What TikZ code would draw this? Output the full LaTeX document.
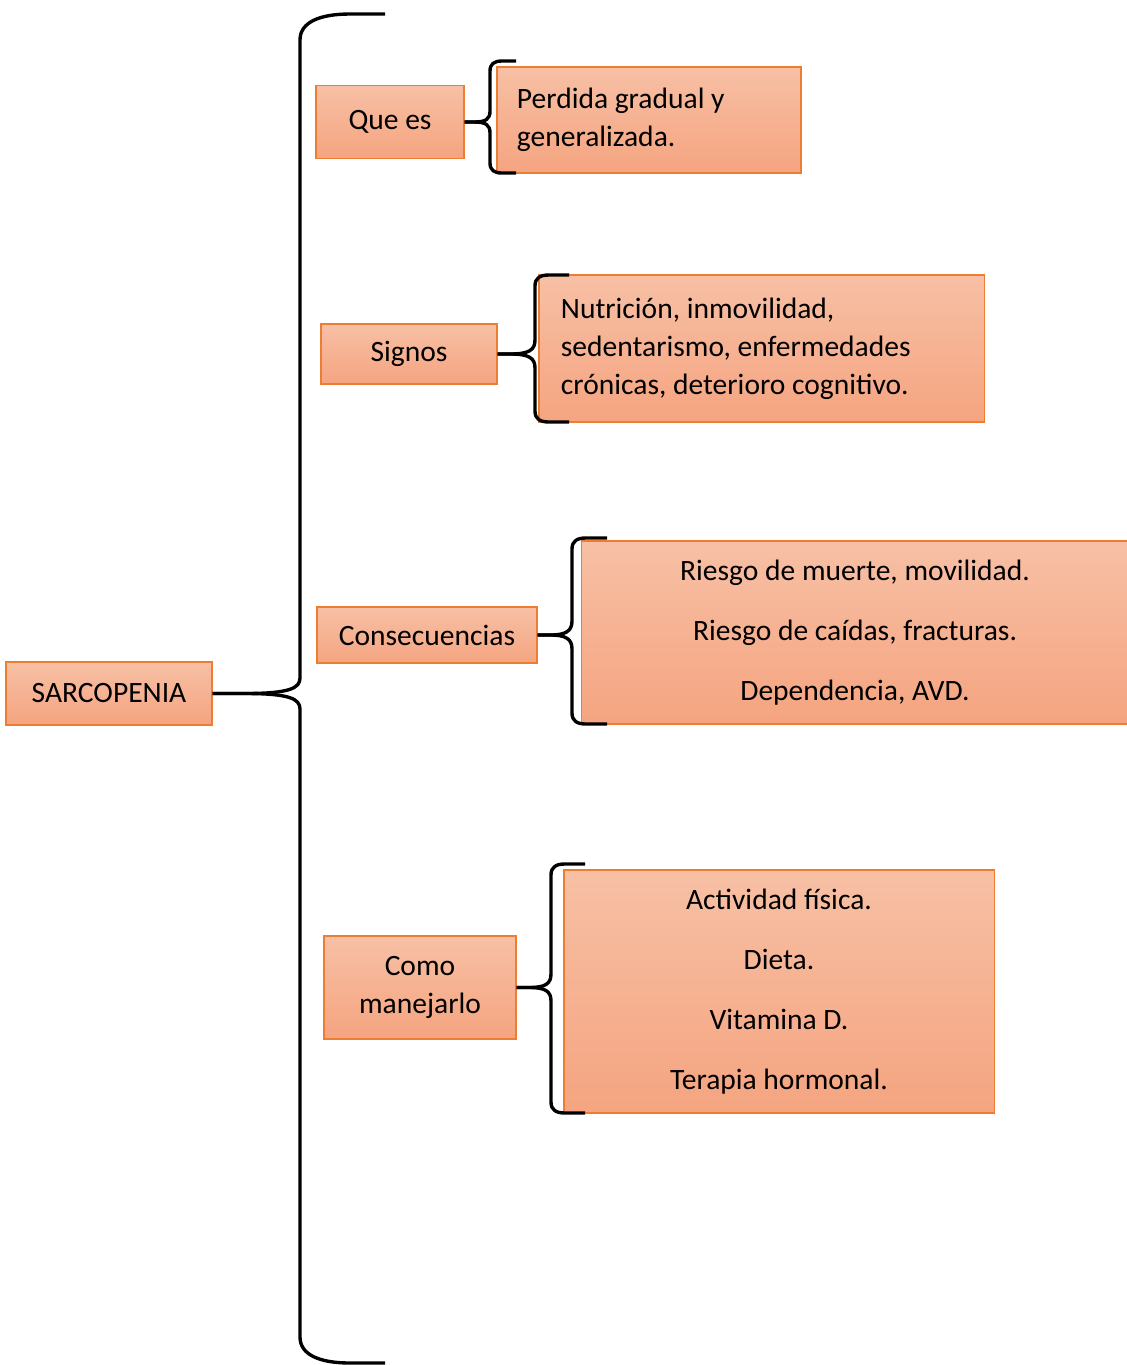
\documentclass[tikz,border=0pt]{standalone}
\usepackage{fontspec}
\setmainfont{Carlito}
\usepackage{xcolor}
\definecolor{boxTop}{RGB}{247,192,165}
\definecolor{boxBottom}{RGB}{245,164,128}
\definecolor{boxOrange}{RGB}{237,125,49}

\begin{document}
\begin{tikzpicture}[
    x=0.0125cm, y=-0.0125cm,
    box/.style={rectangle, draw=boxOrange, line width=0.4pt, top color=boxTop, bottom color=boxBottom, inner sep=0pt, align=center, font=\fontsize{10.5}{13.5}\selectfont},
    note/.style={box, align=flush left, inner xsep=0.25cm},
    brace/.style={draw=black, line width=1.2pt, line join=round}
]

\useasboundingbox (0,0) rectangle (1127,1365);

% Root
\node[box, minimum width=2.575cm, minimum height=0.7875cm] (sarco) at (109,693.5) {SARCOPENIA};

% Branches (middle column)
\node[box, minimum width=1.85cm, minimum height=0.9125cm] (quees) at (390,122) {Que es};
\node[box, minimum width=2.2cm, minimum height=0.75cm] (signos) at (409,354) {Signos};
\node[box, minimum width=2.75cm, minimum height=0.7cm] (consec) at (427,635) {Consecuencias};
\node[box, minimum width=2.4cm, minimum height=1.2875cm] (manejo) at (420,987.5) {Como\\manejarlo};

% Details (right column)
\node[note, text width=3.3cm, minimum height=1.325cm] (perdida) at (649,120) {Perdida gradual y\\generalizada.};
\node[note, inner xsep=0.275cm, text width=5.0125cm, minimum height=1.8375cm] (nutricion) at (761.5,348.5) {Nutrición, inmovilidad,\\sedentarismo, enfermedades\\crónicas, deterioro cognitivo.};
\node[box, minimum width=6.825cm, minimum height=2.2875cm] (riesgo) at (855,632.5) {Riesgo de muerte, movilidad.\\[0.275cm]Riesgo de caídas, fracturas.\\[0.275cm]Dependencia, AVD.};
\node[box, minimum width=5.375cm, minimum height=3.0375cm] (actividad) at (779,991.5) {Actividad física.\\[0.275cm]Dieta.\\[0.275cm]Vitamina D.\\[0.275cm]Terapia hormonal.};

% Brace ends
\coordinate (bigtop) at (385,14);
\coordinate (bigbot) at (385,1363);
\coordinate (qtop) at (516,61);
\coordinate (qbot) at (516,173);
\coordinate (stop) at (569,275);
\coordinate (sbot) at (569,422);
\coordinate (ctop) at (607,538);
\coordinate (cbot) at (607,724);
\coordinate (mtop) at (585,864);
\coordinate (mbot) at (585,1113);

% Big brace
\draw[brace] (sarco.east) -- (245,693.5) .. controls (290,693.5) and (300,688) .. (300,678) -- (300,40) .. controls (300,22) and (320,14) .. (350,14) -- (bigtop);
\draw[brace] (sarco.east) -- (245,693.5) .. controls (290,693.5) and (300,699) .. (300,709) -- (300,1337) .. controls (300,1355) and (320,1363) .. (350,1363) -- (bigbot);

% Small braces
\draw[brace] (quees.east) -- (474,122) .. controls (486,122) and (490,119) .. (490,111) -- (490,71) .. controls (490,64) and (494,61) .. (502,61) -- (qtop);
\draw[brace] (quees.east) -- (474,122) .. controls (486,122) and (490,125) .. (490,133) -- (490,163) .. controls (490,170) and (494,173) .. (502,173) -- (qbot);

\draw[brace] (signos.east) -- (510,354) .. controls (529,354) and (535,350) .. (535,340) -- (535,286) .. controls (535,278) and (540,275) .. (549,275) -- (stop);
\draw[brace] (signos.east) -- (510,354) .. controls (529,354) and (535,358) .. (535,368) -- (535,411) .. controls (535,419) and (540,422) .. (549,422) -- (sbot);

\draw[brace] (consec.east) -- (550,635) .. controls (566,635) and (572,631) .. (572,621) -- (572,549) .. controls (572,541) and (577,538) .. (586,538) -- (ctop);
\draw[brace] (consec.east) -- (550,635) .. controls (566,635) and (572,639) .. (572,649) -- (572,713) .. controls (572,721) and (577,724) .. (586,724) -- (cbot);

\draw[brace] (manejo.east) -- (529,987.5) .. controls (545,987.5) and (551,984) .. (551,974) -- (551,875) .. controls (551,867) and (556,864) .. (565,864) -- (mtop);
\draw[brace] (manejo.east) -- (529,987.5) .. controls (545,987.5) and (551,991) .. (551,1001) -- (551,1102) .. controls (551,1110) and (556,1113) .. (565,1113) -- (mbot);

\end{tikzpicture}
\end{document}
